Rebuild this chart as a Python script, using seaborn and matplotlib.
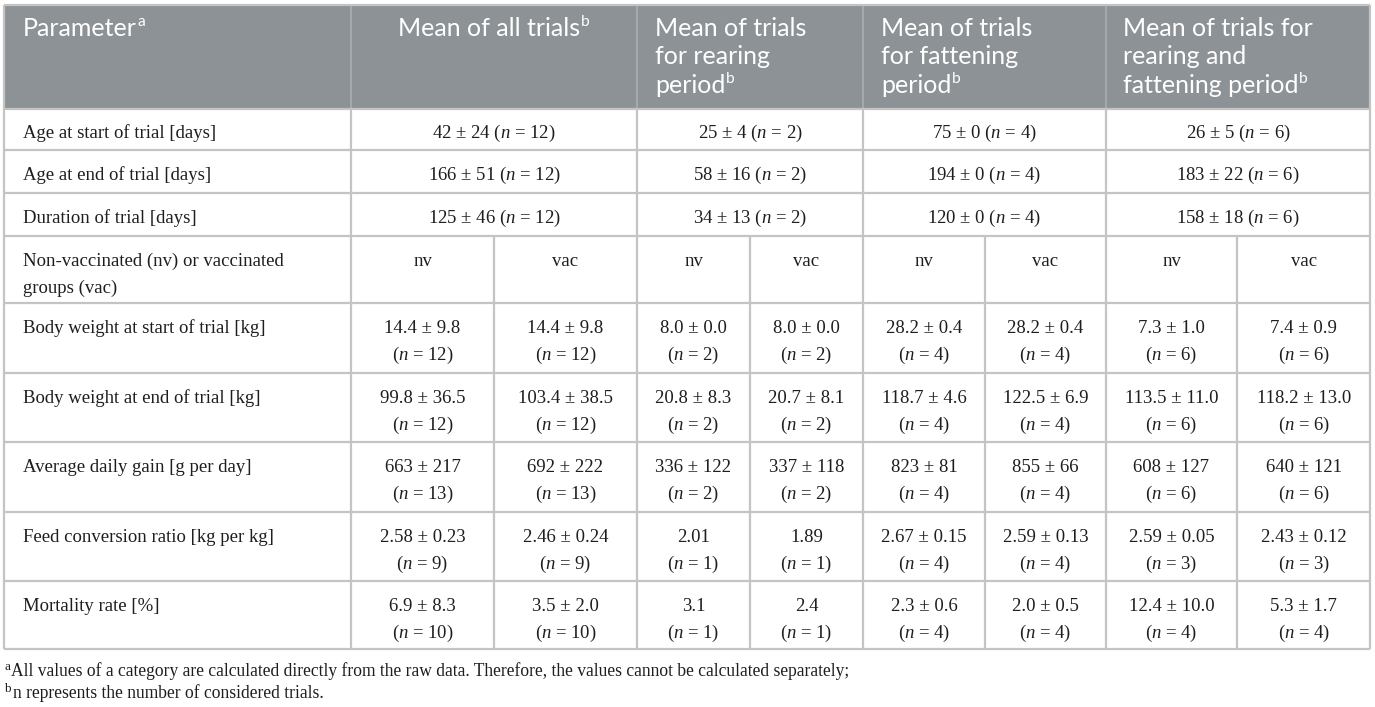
import matplotlib
matplotlib.use("Agg")
import matplotlib.pyplot as plt
from matplotlib.patches import Rectangle
import seaborn as sns

# ---------------- data ----------------
header_param = "Parameter"
header_groups = [
    ["Mean of all trials"],
    ["Mean of trials", "for rearing", "period"],
    ["Mean of trials", "for fattening", "period"],
    ["Mean of trials for", "rearing and", "fattening period"],
]
param_labels = [
    ["Age at start of trial [days]"],
    ["Age at end of trial [days]"],
    ["Duration of trial [days]"],
    ["Non-vaccinated (nv) or vaccinated", "groups (vac)"],
    ["Body weight at start of trial [kg]"],
    ["Body weight at end of trial [kg]"],
    ["Average daily gain [g per day]"],
    ["Feed conversion ratio [kg per kg]"],
    ["Mortality rate [%]"],
]
# spanning rows: one value per group (all, rearing, fattening, rearing+fattening)
age_start_mean = [42, 25, 75, 26]
age_start_sd = [24, 4, 0, 5]
age_start_n = [12, 2, 4, 6]
age_end_mean = [166, 58, 194, 183]
age_end_sd = [51, 16, 0, 22]
age_end_n = [12, 2, 4, 6]
duration_mean = [125, 34, 120, 158]
duration_sd = [46, 13, 0, 18]
duration_n = [12, 2, 4, 6]

group_labels = ["nv", "vac", "nv", "vac", "nv", "vac", "nv", "vac"]
# split rows: nv / vac per group
bw_start_mean = [14.4, 14.4, 8.0, 8.0, 28.2, 28.2, 7.3, 7.4]
bw_start_sd = [9.8, 9.8, 0.0, 0.0, 0.4, 0.4, 1.0, 0.9]
bw_start_n = [12, 12, 2, 2, 4, 4, 6, 6]
bw_end_mean = [99.8, 103.4, 20.8, 20.7, 118.7, 122.5, 113.5, 118.2]
bw_end_sd = [36.5, 38.5, 8.3, 8.1, 4.6, 6.9, 11.0, 13.0]
bw_end_n = [12, 12, 2, 2, 4, 4, 6, 6]
adg_mean = [663, 692, 336, 337, 823, 855, 608, 640]
adg_sd = [217, 222, 122, 118, 81, 66, 127, 121]
adg_n = [13, 13, 2, 2, 4, 4, 6, 6]
fcr_mean = [2.58, 2.46, 2.01, 1.89, 2.67, 2.59, 2.59, 2.43]
fcr_sd = [0.23, 0.24, None, None, 0.15, 0.13, 0.05, 0.12]
fcr_n = [9, 9, 1, 1, 4, 4, 3, 3]
mort_mean = [6.9, 3.5, 3.1, 2.4, 2.3, 2.0, 12.4, 5.3]
mort_sd = [8.3, 2.0, None, None, 0.6, 0.5, 10.0, 1.7]
mort_n = [10, 10, 1, 1, 4, 4, 4, 4]

footnote_a = ("All values of a category are calculated directly from the raw data. "
              "Therefore, the values cannot be calculated separately;")
footnote_b = "n represents the number of considered trials."

span_rows = [(age_start_mean, age_start_sd, age_start_n, 0),
             (age_end_mean, age_end_sd, age_end_n, 0),
             (duration_mean, duration_sd, duration_n, 0)]
split_rows = [(bw_start_mean, bw_start_sd, bw_start_n, 1),
              (bw_end_mean, bw_end_sd, bw_end_n, 1),
              (adg_mean, adg_sd, adg_n, 0),
              (fcr_mean, fcr_sd, fcr_n, 2),
              (mort_mean, mort_sd, mort_n, 1)]

# ---------------- style ----------------
sns.set_theme(style="white")
SERIF = ["Liberation Serif", "DejaVu Serif"]
SANS = ["Lato", "Open Sans", "DejaVu Sans"]
plt.rcParams["font.family"] = SERIF
plt.rcParams["mathtext.fontset"] = "custom"
plt.rcParams["mathtext.rm"] = "Liberation Serif"
plt.rcParams["mathtext.it"] = "Liberation Serif:italic"

HEADER_BG = "#8c9295"
HEADER_DIV = "#a7acaf"
GRID = "#c4c4c4"
TXT = "#1e1e1e"

W, H = 1375, 707
fig = plt.figure(figsize=(W / 100, H / 100), dpi=100)
ax = fig.add_axes([0, 0, 1, 1])
ax.set_xlim(0, W)
ax.set_ylim(H, 0)
ax.axis("off")
renderer = fig.canvas.get_renderer()


def width_of(s, size, family):
    t = ax.text(0, 0, s, fontsize=size, family=family)
    w = t.get_window_extent(renderer).width
    t.remove()
    return w


# font sizes fitted to measured pixel widths in the reference
body_size = 0.5 * (10 * 266 / width_of("Non-vaccinated (nv) or vaccinated", 10, SERIF)
                   + 10 * 191 / width_of("Age at start of trial [days]", 10, SERIF))
head_size = 10 * 152 / width_of("Mean of trials", 10, SANS)
foot_size = 10 * 760 / width_of(footnote_a.split(" separately")[0], 10, SERIF)


def text_sup(x, y, s, sup, size, family, color, ha="left", sup_scale=0.62, rise=0.40, gap=0.5):
    wm = width_of(s, size, family)
    ws = width_of(sup, size * sup_scale, family)
    total = wm + gap + ws
    x0 = x - total / 2 if ha == "center" else x
    ax.text(x0, y, s, fontsize=size, family=family, color=color, ha="left", va="baseline")
    ax.text(x0 + wm + gap, y - size * rise * 100 / 72, sup, fontsize=size * sup_scale,
            family=family, color=color, ha="left", va="baseline")


def fmt(m, sd, dec):
    if sd is None:
        return f"{m:.{dec}f}"
    return f"{m:.{dec}f} ± {sd:.{dec}f}"


def fmt_n(n):
    return "($n$ = " + str(n) + ")"


# ---------------- geometry ----------------
x_left, x_right = 4, 1370.5
y_top = 4.5
header_bottom = 108.5
row_edges = [108.5, 150, 193, 236, 303, 373, 442, 512, 581, 648.5]
main_div = [351, 637, 863, 1106]
sub_div = [494, 750, 985, 1237]
group_bounds = [351, 637, 863, 1106, x_right]
split_bounds = [351, 494, 637, 750, 863, 985, 1106, 1237, x_right]

# header background
ax.add_patch(Rectangle((x_left, y_top), x_right - x_left, header_bottom - y_top,
                       facecolor=HEADER_BG, edgecolor="none", zorder=0))
# header dividers
ax.vlines(main_div, y_top, header_bottom, colors=HEADER_DIV, lw=1.3, zorder=1)
# grid lines
ax.hlines(row_edges, x_left, x_right, colors=GRID, lw=1.6, zorder=2)
ax.hlines([y_top], x_left, x_right, colors=GRID, lw=1.6, zorder=2)
ax.vlines([x_left, x_right], y_top, row_edges[-1], colors=GRID, lw=1.6, zorder=2)
ax.vlines(main_div, header_bottom, row_edges[-1], colors=GRID, lw=1.6, zorder=2)
ax.vlines(sub_div, row_edges[3], row_edges[-1], colors=GRID, lw=1.6, zorder=2)

# header text
h_base, h_step = 36, 28.3
text_sup(23, h_base, header_param, "a", head_size, SANS, "white")
grp_x = [None, 655, 881, 1123]
for gi, lines in enumerate(header_groups):
    for li, line in enumerate(lines):
        y = h_base + li * h_step
        last = li == len(lines) - 1
        if gi == 0:
            cx = (group_bounds[0] + group_bounds[1]) / 2
            text_sup(cx, y, line, "b", head_size, SANS, "white", ha="center")
        elif last:
            text_sup(grp_x[gi], y, line, "b", head_size, SANS, "white")
        else:
            ax.text(grp_x[gi], y, line, fontsize=head_size, family=SANS, color="white",
                    ha="left", va="baseline")

# body: parameter labels
b_off, b_step = 29.8, 27.0
for ri, lines in enumerate(param_labels):
    top = row_edges[ri]
    for li, line in enumerate(lines):
        ax.text(23, top + b_off + li * b_step, line, fontsize=body_size, color=TXT,
                ha="left", va="baseline")

# spanning rows
for ri, (m, sd, n, dec) in enumerate(span_rows):
    top = row_edges[ri]
    for gi in range(4):
        cx = (group_bounds[gi] + group_bounds[gi + 1]) / 2
        s = fmt(m[gi], sd[gi], dec) + " " + fmt_n(n[gi])
        ax.text(cx, top + b_off, s, fontsize=body_size, color=TXT, ha="center", va="baseline")

# nv / vac row
for ci, lab in enumerate(group_labels):
    cx = (split_bounds[ci] + split_bounds[ci + 1]) / 2
    ax.text(cx, row_edges[3] + b_off, lab, fontsize=body_size, color=TXT,
            ha="center", va="baseline")

# split rows
for k, (m, sd, n, dec) in enumerate(split_rows):
    top = row_edges[4 + k]
    for ci in range(8):
        cx = (split_bounds[ci] + split_bounds[ci + 1]) / 2
        ax.text(cx, top + b_off, fmt(m[ci], sd[ci], dec), fontsize=body_size, color=TXT,
                ha="center", va="baseline")
        ax.text(cx, top + b_off + b_step, fmt_n(n[ci]), fontsize=body_size, color=TXT,
                ha="center", va="baseline")

# footnotes
ax.text(5, 676 - 6, "a", fontsize=foot_size * 0.75, color=TXT, ha="left", va="baseline")
ax.text(11, 676, footnote_a, fontsize=foot_size, color=TXT, ha="left", va="baseline")
ax.text(5, 698 - 6, "b", fontsize=foot_size * 0.75, color=TXT, ha="left", va="baseline")
ax.text(13.5, 698, footnote_b, fontsize=foot_size, color=TXT, ha="left", va="baseline")

fig.savefig("out.png", dpi=100, facecolor="white")
